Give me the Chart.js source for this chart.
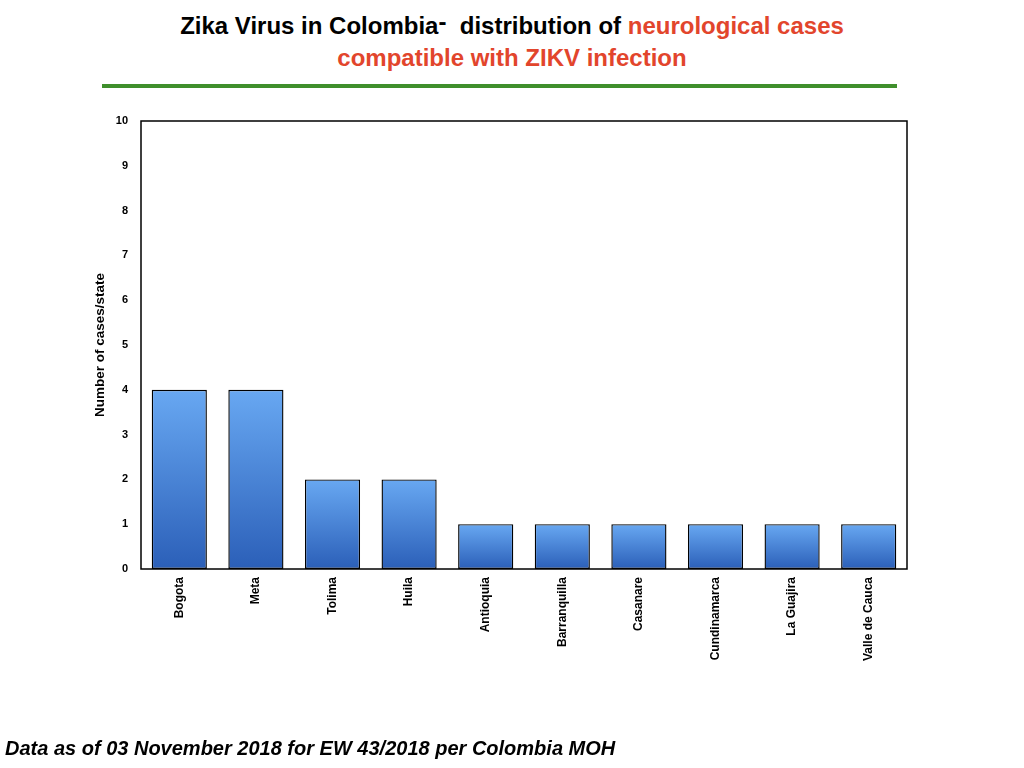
<!DOCTYPE html>
<html>
<head>
<meta charset="utf-8">
<script src="https://cdn.jsdelivr.net/npm/chart.js@4/dist/chart.umd.min.js"></script>
<style>
  body { margin: 0; width: 1024px; height: 768px; background: #fff; position: relative; overflow: hidden; font-family: "Liberation Sans", Arial, sans-serif; }
  #title { position: absolute; left: 0; width: 1024px; top: 10px; text-align: center; font-weight: bold; font-size: 24px; line-height: 32px; }
  #title .red { color: #e2452c; }
  #rule { position: absolute; left: 102px; top: 84px; width: 795px; height: 4px; background: #3f8f2c; }
  #note { position: absolute; left: 5px; top: 737px; font-weight: bold; font-style: italic; font-size: 20px; }
  #wrap { position: absolute; left: 0; top: 0; width: 1024px; height: 768px; }
</style>
</head>
<body>
<div id="title">Zika Virus in Colombia<span style="position:relative;top:-4px">-</span>&nbsp; distribution of <span class="red">neurological cases</span><br><span class="red">compatible with ZIKV infection</span></div>
<div id="rule"></div>
<div id="wrap"><canvas id="myChart"></canvas></div>
<div id="note">Data as of 03 November 2018 for EW 43/2018 per Colombia MOH</div>
<script>
const states = ['Bogota', 'Meta', 'Tolima', 'Huila', 'Antioquia', 'Barranquilla', 'Casanare', 'Cundinamarca', 'La Guajira', 'Valle de Cauca'];
const cases = [4, 4, 2, 2, 1, 1, 1, 1, 1, 1];
const yTicks = [0, 1, 2, 3, 4, 5, 6, 7, 8, 9, 10];

// outer box round the plot area
const boxPlugin = {
  id: 'box',
  afterDraw(chart) {
    const a = chart.chartArea, c = chart.ctx;
    c.save();
    c.strokeStyle = '#000';
    c.lineWidth = 1.5;
    c.strokeRect(a.left, a.top, a.right - a.left, a.bottom - a.top);
    c.restore();
  }
};

const ctx = document.getElementById('myChart');

var chart = new Chart(ctx, {
  type: 'bar',
  data: {
    labels: states,
    datasets: [{
      label: 'Cases',
      data: cases,
      borderWidth: 1.4,
      borderColor: '#000',
      borderSkipped: false,
      barPercentage: 0.8,
      categoryPercentage: 0.9,
      backgroundColor: function(context) {
        const chart = context.chart;
        if (!chart.chartArea || context.raw === undefined) return '#4a86d8';
        const y = chart.scales.y;
        const top = y.getPixelForValue(context.raw);
        const bottom = y.getPixelForValue(0);
        if (!isFinite(top) || bottom - top < 1) return '#4a86d8';
        const g = chart.ctx.createLinearGradient(0, top, 0, bottom);
        g.addColorStop(0, '#68a8f2');
        g.addColorStop(1, '#2b5fb8');
        return g;
      }
    }]
  },
  options: {
    responsive: true,
    maintainAspectRatio: false,
    animation: false,
    layout: { padding: { left: 90, top: 121, right: 117, bottom: 99 } },
    plugins: {
      legend: { display: false },
      tooltip: { enabled: false }
    },
    scales: {
      x: {
        grid: { display: false },
        border: { display: false },
        ticks: {
          color: '#000',
          font: { family: 'Liberation Sans', weight: 'bold', size: 12 },
          minRotation: 90,
          maxRotation: 90,
          autoSkip: false,
          padding: 0
        },
        afterFit: function(scale) { scale.height = 100; }
      },
      y: {
        min: 0,
        max: 10,
        afterBuildTicks: function(scale) { scale.ticks = yTicks.map(v => ({ value: v })); },
        grid: { display: false, drawTicks: false },
        border: { display: false },
        ticks: {
          color: '#000',
          font: { family: 'Liberation Sans', weight: 'bold', size: 11 },
          padding: 13
        },
        title: {
          display: true,
          text: 'Number of cases/state',
          color: '#000',
          font: { family: 'Liberation Sans', weight: 'bold', size: 13.5 },
          padding: { top: 2, bottom: 0 }
        },
        afterFit: function(scale) { scale.width = 51; }
      }
    }
  },
  plugins: [boxPlugin]
});
</script>
</body>
</html>
